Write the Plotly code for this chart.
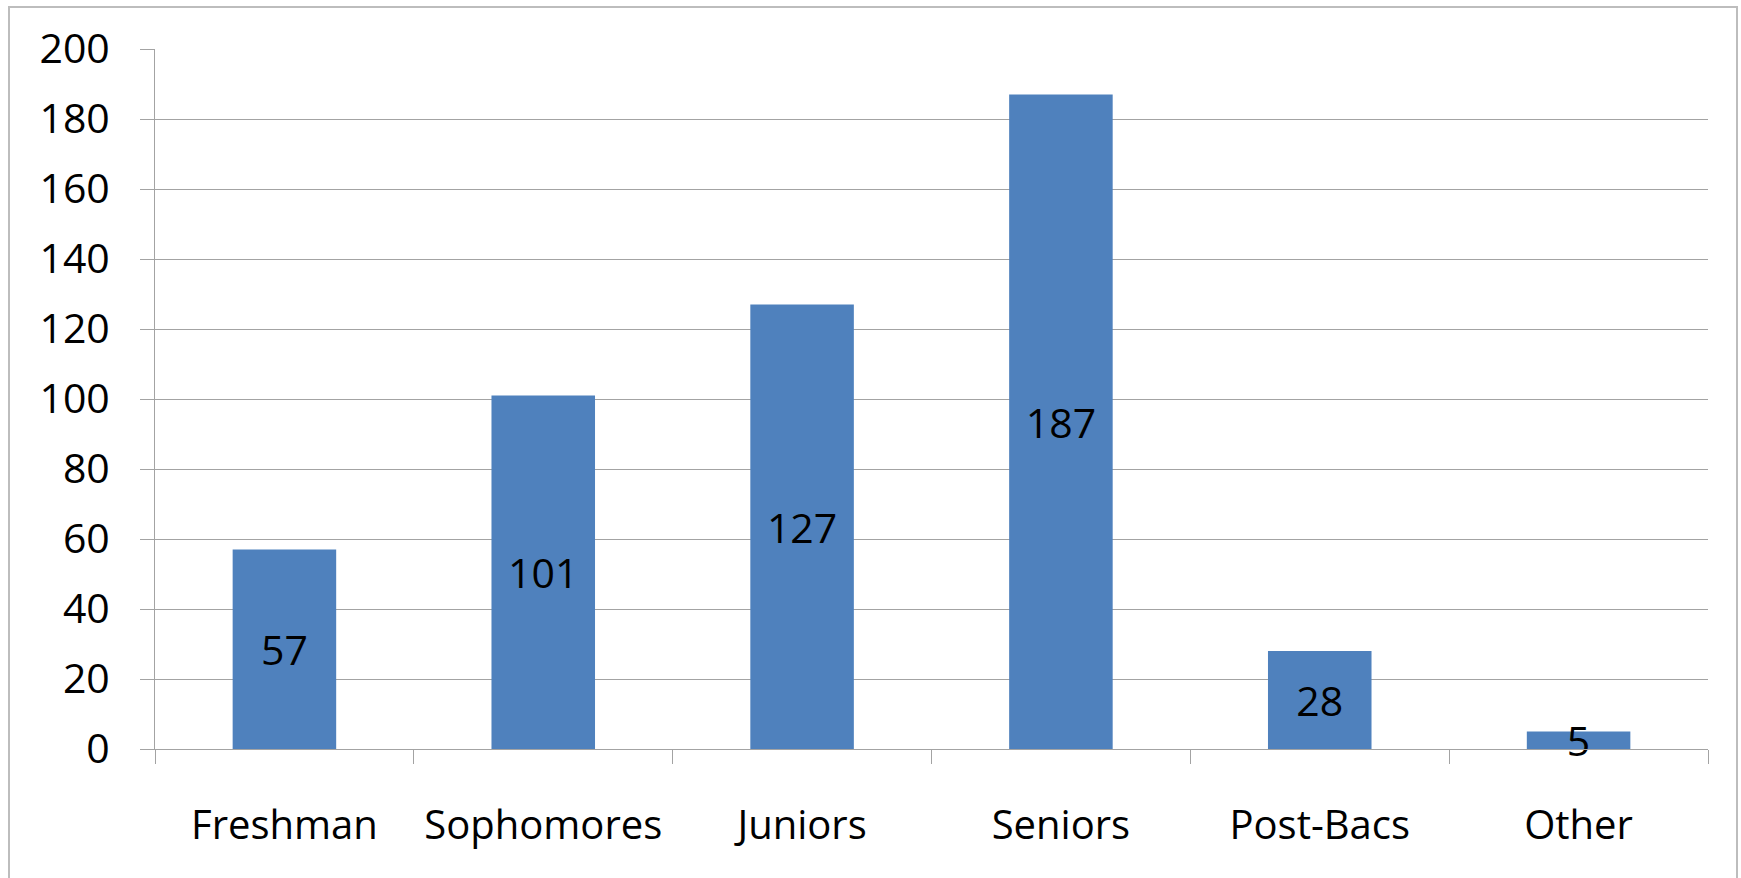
import plotly.graph_objects as go

categories = ["Freshman", "Sophomores", "Juniors", "Seniors", "Post-Bacs", "Other"]
values = [57, 101, 127, 187, 28, 5]
y_ticks = [0, 20, 40, 60, 80, 100, 120, 140, 160, 180, 200]

FONT = "Open Sans"
GRID = "#a3a3a3"

fig = go.Figure(
    go.Bar(
        x=categories,
        y=values,
        text=[str(v) for v in values],
        textposition="inside",
        insidetextanchor="middle",
        textangle=0,
        cliponaxis=False,
        textfont=dict(family=FONT, size=41, color="black"),
        marker=dict(color="#4F81BD", line=dict(width=0)),
        hoverinfo="x+y",
    )
)

W, H = 1741, 878
L, R, T, B = 155, 33, 49, 129
pw = W - L - R
ph = H - T - B

fig.update_layout(
    width=W,
    height=H,
    margin=dict(l=L, r=R, t=T, b=B, pad=0),
    paper_bgcolor="white",
    plot_bgcolor="white",
    bargap=0.6,
    showlegend=False,
    uniformtext=dict(minsize=41, mode="show"),
    font=dict(family=FONT, color="black"),
    shapes=[
        dict(
            type="rect",
            xref="paper",
            yref="paper",
            x0=(9 - L) / pw,
            x1=(1737 - L) / pw,
            y0=-0.3,
            y1=(H - B - 7) / ph,
            line=dict(color="#bdbdbd", width=2),
            fillcolor="rgba(0,0,0,0)",
            layer="below",
        )
    ],
)

fig.update_xaxes(
    type="category",
    showgrid=False,
    showline=True,
    linecolor=GRID,
    linewidth=1,
    ticks="outside",
    tickson="boundaries",
    ticklen=14,
    tickcolor=GRID,
    tickwidth=1,
    ticklabelstandoff=41,
    tickfont=dict(family=FONT, size=40, color="black"),
)

fig.update_yaxes(
    range=[0, 200],
    tickvals=y_ticks,
    showgrid=True,
    gridcolor=GRID,
    gridwidth=1,
    showline=True,
    linecolor=GRID,
    linewidth=1,
    zeroline=False,
    ticks="outside",
    ticklen=14,
    tickcolor=GRID,
    tickwidth=1,
    ticklabelstandoff=22,
    tickfont=dict(family=FONT, size=41, color="black"),
)

fig.write_html(
    "out.html",
    config={"displayModeBar": False},
    post_script="document.body.style.margin='0';document.body.style.overflow='hidden';",
)
